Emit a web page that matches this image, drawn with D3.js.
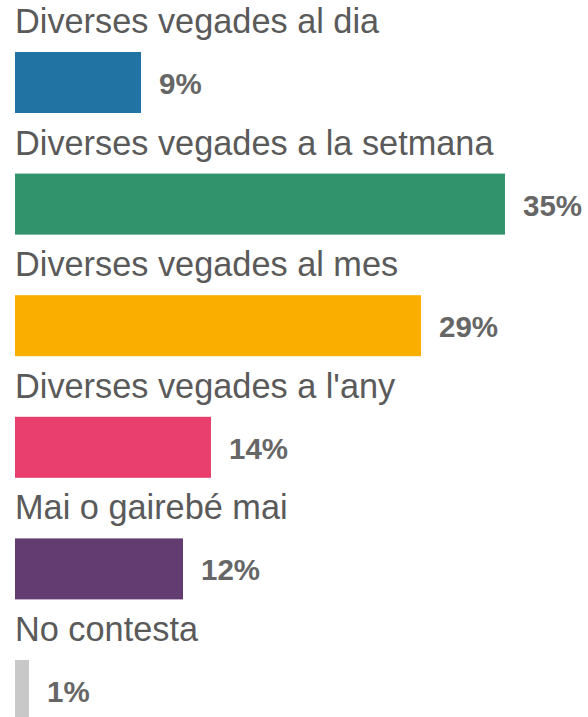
<!DOCTYPE html>
<html>
<head>
<meta charset="utf-8">
<script src="https://cdn.jsdelivr.net/npm/d3@7"></script>
<style>
  body { margin: 0; background: #fff; }
  svg { display: block; }
</style>
</head>
<body>
<div id="chart"></div>
<script>
var width = 588;
var height = 717;

// dades
var categories = [
  "Diverses vegades al dia",
  "Diverses vegades a la setmana",
  "Diverses vegades al mes",
  "Diverses vegades a l'any",
  "Mai o gairebé mai",
  "No contesta"
];
var values = [9, 35, 29, 14, 12, 1];
var colors = ["#2173a3", "#31936c", "#f9ae00", "#e83f6e", "#633d72", "#c8c8c8"];

var rowStep = 121.6;
var font = "'Liberation Sans', Arial, sans-serif";

var x = d3.scaleLinear()
  .domain([0, 35])
  .range([15, 505]);

var y = d3.scaleBand()
  .domain(categories)
  .range([0, rowStep * categories.length])
  .paddingInner(0);

var svg = d3.select("#chart")
  .append("svg")
  .attr("width", width)
  .attr("height", height);

var rows = svg.selectAll("g.row")
  .data(categories)
  .enter().append("g")
  .attr("class", "row")
  .attr("transform", d => "translate(0," + y(d) + ")");

rows.append("text")
  .attr("x", 15)
  .attr("y", 33)
  .attr("font-family", font)
  .attr("font-size", "34.3px")
  .attr("fill", "#5a5a5a")
  .text(d => d);

rows.append("rect")
  .attr("x", x(0))
  .attr("y", 52)
  .attr("height", 61)
  .attr("width", (d, i) => x(values[i]) - x(0))
  .attr("fill", (d, i) => colors[i]);

rows.append("text")
  .attr("x", (d, i) => x(values[i]) + 18)
  .attr("y", 94)
  .attr("font-family", font)
  .attr("font-size", "29.5px")
  .attr("font-weight", "bold")
  .attr("fill", "#666666")
  .text((d, i) => values[i] + "%");
</script>
</body>
</html>
